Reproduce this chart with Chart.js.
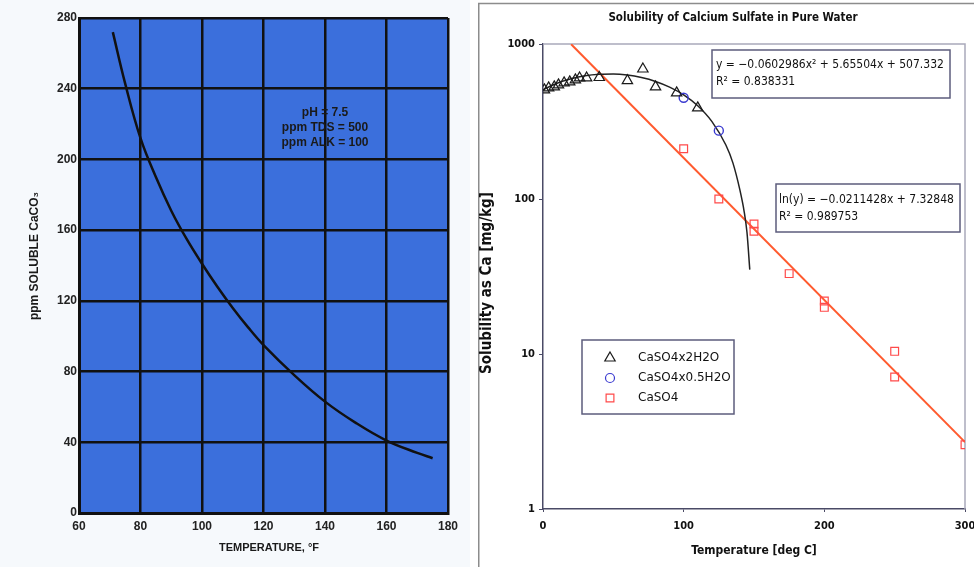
<!DOCTYPE html>
<html>
<head>
<meta charset="utf-8">
<script src="https://cdn.jsdelivr.net/npm/chart.js@4.4.0/dist/chart.umd.min.js"></script>
<style>
  html, body { margin: 0; padding: 0; background: #fff; overflow: hidden; }
  #leftBox { position: absolute; left: 0; top: 0; width: 470px; height: 567px; background: #f6f9fc; }
  #rightBox { position: absolute; left: 478px; top: 0; width: 510px; height: 567px; background: #fff; }
</style>
</head>
<body>
<div id="leftBox"><canvas id="caco3Chart" width="470" height="567"></canvas></div>
<div id="rightBox"><canvas id="caso4Chart" width="510" height="567"></canvas></div>
<script>
// ---- left chart: soluble CaCO3 vs temperature ----
const leftTemps = [71, 75, 80, 85, 90, 95, 100, 105, 110, 115, 120, 130, 140, 150, 160, 170, 175];
const leftPpm = [272, 243, 212, 190, 171, 155, 141, 128, 116, 105, 95, 78, 63, 51, 41, 34, 31];
const leftNotes = ['pH = 7.5', 'ppm TDS = 500', 'ppm ALK = 100'];

// ---- right chart: calcium sulfate solubility ----
const dihydrateT = [1, 4, 8, 11, 15, 19, 23, 26, 31, 40, 60, 71, 80, 95, 110];
const dihydrateV = [506, 521, 529, 545, 561, 570, 587, 604, 604, 608, 580, 690, 529, 484, 387];
const hemiT = [100, 125];
const hemiV = [450, 276];
const anhydT = [100, 125, 150, 150, 175, 200, 200, 250, 250, 300];
const anhydV = [211, 100, 69, 62, 33, 22, 20, 10.4, 7.1, 2.6];
const quadFitT = [0, 10, 20, 30, 40, 50, 60, 70, 80, 90, 100, 110, 120, 130, 135, 140, 143, 145, 147];
const quadFitV = [507, 558, 596, 623, 637, 640, 630, 607, 573, 527, 470, 400, 317, 223, 171, 114, 83, 61, 35];
const expFitT = [20, 300];
const expFitV = [997, 2.7];
const yTicks = [1, 10, 100, 1000];
const seriesNames = ['CaSO4x2H2O', 'CaSO4x0.5H2O', 'CaSO4'];

function pts(xs, ys) {
  return xs.map((x, i) => ({ x: x, y: ys[i] }));
}

const leftDecor = {
  id: 'leftDecor',
  beforeDraw(chart) {
    const a = chart.chartArea;
    const ctx = chart.ctx;
    ctx.save();
    ctx.fillStyle = '#3b6fdc';
    ctx.fillRect(a.left, a.top, a.right - a.left, a.bottom - a.top);
    ctx.restore();
  },
  afterDraw(chart) {
    const ctx = chart.ctx;
    ctx.save();
    ctx.fillStyle = '#1a1a1a';
    ctx.textAlign = 'center';
    ctx.textBaseline = 'middle';
    ctx.font = 'bold 12px "Liberation Sans", Arial, sans-serif';
    leftNotes.forEach((t, i) => ctx.fillText(t, 325, 113 + i * 15));

    ctx.font = 'bold 11px "Liberation Sans", Arial, sans-serif';
    ctx.fillText('TEMPERATURE, °F', 269, 548);

    ctx.translate(35, 256);
    ctx.rotate(-Math.PI / 2);
    ctx.font = 'bold 12px "Liberation Sans", Arial, sans-serif';
    ctx.fillText('ppm SOLUBLE CaCO₃', 0, 0);
    ctx.restore();
  }
};

new Chart(document.getElementById('caco3Chart'), {
  type: 'line',
  data: {
    datasets: [{
      data: pts(leftTemps, leftPpm),
      borderColor: '#111',
      borderWidth: 2.5,
      pointRadius: 0,
      tension: 0.4,
      fill: false
    }]
  },
  options: {
    responsive: false,
    animation: false,
    layout: { padding: { top: 18, right: 22, bottom: 0, left: 0 } },
    plugins: { legend: { display: false }, tooltip: { enabled: false } },
    scales: {
      x: {
        type: 'linear',
        min: 60,
        max: 180,
        afterFit: s => { s.height = 54; },
        ticks: {
          stepSize: 20,
          padding: 6,
          color: '#222',
          font: { family: '"Liberation Sans", Arial, sans-serif', size: 12, weight: 'bold' }
        },
        grid: { color: '#111', lineWidth: 2.5, drawTicks: false },
        border: { color: '#111', width: 3 }
      },
      y: {
        min: 0,
        max: 280,
        afterFit: s => { s.width = 79; },
        ticks: {
          stepSize: 40,
          padding: 2,
          color: '#222',
          font: { family: '"Liberation Sans", Arial, sans-serif', size: 12, weight: 'bold' }
        },
        grid: { color: '#111', lineWidth: 2.5, drawTicks: false },
        border: { color: '#111', width: 3 }
      }
    }
  },
  plugins: [leftDecor]
});

const rightDecor = {
  id: 'rightDecor',
  beforeDatasetsDraw(chart) {
    const a = chart.chartArea;
    const ctx = chart.ctx;
    ctx.save();
    ctx.strokeStyle = '#a9a9bb';
    ctx.lineWidth = 1.5;
    ctx.beginPath();
    ctx.moveTo(a.left, a.top);
    ctx.lineTo(a.right, a.top);
    ctx.lineTo(a.right, a.bottom);
    ctx.stroke();
    ctx.restore();
  },
  afterDraw(chart) {
    const ctx = chart.ctx;
    ctx.save();
    // panel frame
    ctx.strokeStyle = '#8c8c8c';
    ctx.lineWidth = 1.5;
    ctx.beginPath();
    ctx.moveTo(0.75, 567);
    ctx.lineTo(0.75, 3.5);
    ctx.lineTo(510, 3.5);
    ctx.stroke();

    ctx.fillStyle = '#111';
    ctx.textAlign = 'center';
    ctx.textBaseline = 'middle';
    ctx.font = 'bold 11.5px "DejaVu Sans Condensed", "DejaVu Sans", sans-serif';
    ctx.fillText('Solubility of Calcium Sulfate in Pure Water', 255, 18);

    ctx.font = 'bold 12px "DejaVu Sans Condensed", "DejaVu Sans", sans-serif';
    ctx.fillText('Temperature [deg C]', 276, 551);
    ctx.save();
    ctx.translate(9, 283);
    ctx.rotate(-Math.PI / 2);
    ctx.font = 'bold 15px "DejaVu Sans Condensed", "DejaVu Sans", sans-serif';
    ctx.fillText('Solubility as Ca [mg/kg]', 0, 0);
    ctx.restore();

    // trend line equation boxes
    ctx.strokeStyle = '#5c5c7c';
    ctx.lineWidth = 1.5;
    ctx.strokeRect(234, 50, 238, 48);
    ctx.strokeRect(298, 184, 184, 48);
    ctx.textAlign = 'left';
    ctx.font = '12px "DejaVu Sans Condensed", "DejaVu Sans", sans-serif';
    ctx.fillText('y = \u22120.0602986x\u00b2 + 5.65504x + 507.332', 238, 65);
    ctx.fillText('R\u00b2 = 0.838331', 238, 82);
    ctx.fillText('ln(y) = \u22120.0211428x + 7.32848', 301, 200);
    ctx.fillText('R\u00b2 = 0.989753', 301, 217);

    // legend
    ctx.strokeStyle = '#5c5c7c';
    ctx.strokeRect(104, 340, 152, 74);
    ctx.font = '12px "DejaVu Sans", sans-serif';
    seriesNames.forEach((name, i) => {
      const ds = chart.data.datasets[i];
      const y = 358 + i * 20;
      ctx.strokeStyle = ds.borderColor;
      ctx.fillStyle = 'rgba(0,0,0,0)';
      ctx.lineWidth = 1.2;
      Chart.helpers.drawPoint(ctx, { pointStyle: ds.pointStyle, radius: ds.pointRadius, borderWidth: 1.2, rotation: 0 }, 132, y);
      ctx.fillStyle = '#111';
      ctx.fillText(name, 160, y);
    });
    ctx.restore();
  }
};

const tickFont = { family: '"DejaVu Sans Condensed", "DejaVu Sans", sans-serif', size: 11, weight: 'bold' };

new Chart(document.getElementById('caso4Chart'), {
  type: 'scatter',
  data: {
    datasets: [
      {
        label: seriesNames[0],
        data: pts(dihydrateT, dihydrateV),
        pointStyle: 'triangle',
        pointRadius: 6,
        borderColor: '#1a1a1a',
        backgroundColor: 'rgba(0,0,0,0)',
        borderWidth: 1.2
      },
      {
        label: seriesNames[1],
        data: pts(hemiT, hemiV),
        pointStyle: 'circle',
        pointRadius: 4.5,
        borderColor: '#3a3ad0',
        backgroundColor: 'rgba(0,0,0,0)',
        borderWidth: 1.4
      },
      {
        label: seriesNames[2],
        data: pts(anhydT, anhydV),
        pointStyle: 'rect',
        pointRadius: 5.5,
        borderColor: '#ff4a4a',
        backgroundColor: 'rgba(0,0,0,0)',
        borderWidth: 1.2
      },
      {
        label: 'quadratic fit',
        data: pts(quadFitT, quadFitV),
        showLine: true,
        borderColor: '#222',
        borderWidth: 1.5,
        pointRadius: 0,
        cubicInterpolationMode: 'monotone'
      },
      {
        label: 'exponential fit',
        data: pts(expFitT, expFitV),
        showLine: true,
        borderColor: '#ff5a2e',
        borderWidth: 2,
        pointRadius: 0
      }
    ]
  },
  options: {
    responsive: false,
    animation: false,
    layout: { padding: { top: 44, right: 23, bottom: 0, left: 0 } },
    plugins: { legend: { display: false }, tooltip: { enabled: false } },
    scales: {
      x: {
        type: 'linear',
        min: 0,
        max: 300,
        afterFit: s => { s.height = 58; },
        ticks: { stepSize: 100, padding: 8, color: '#111', font: tickFont },
        grid: { drawOnChartArea: false, drawTicks: true, tickLength: 3, color: '#4a4a66' },
        border: { color: '#4a4a66', width: 1.5 }
      },
      y: {
        type: 'logarithmic',
        min: 1,
        max: 1000,
        afterFit: s => { s.width = 65; },
        afterBuildTicks: s => { s.ticks = yTicks.map(v => ({ value: v })); },
        ticks: { padding: 4, color: '#111', font: tickFont, callback: v => String(v) },
        grid: { drawOnChartArea: false, drawTicks: true, tickLength: 4, color: '#4a4a66' },
        border: { color: '#4a4a66', width: 1.5 }
      }
    }
  },
  plugins: [rightDecor]
});
</script>
</body>
</html>
